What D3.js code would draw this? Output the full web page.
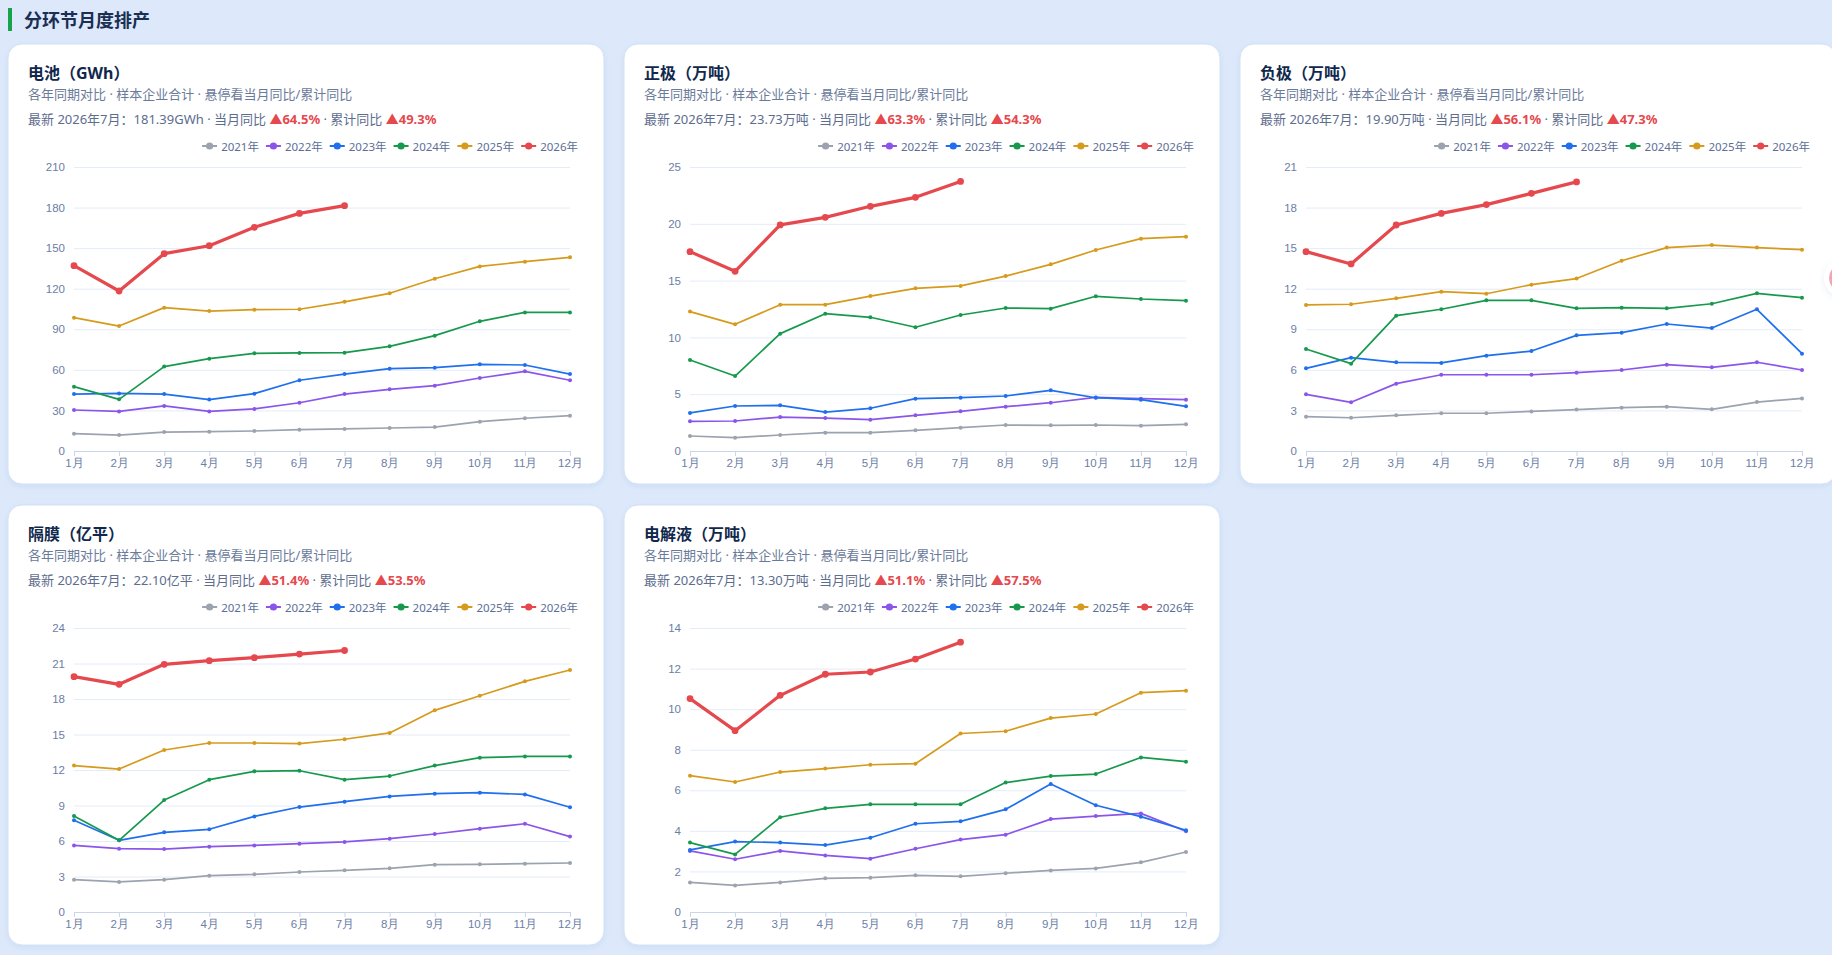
<!DOCTYPE html>
<html>
<head>
<meta charset="utf-8">
<script src="https://cdn.jsdelivr.net/npm/d3@7"></script>
<style>
    body { margin: 0; background: #dde9fb; overflow: hidden; font-family: "Noto Sans", "Noto Sans CJK SC", sans-serif; }
</style>
</head>
<body>
<div id="page"></div>
<script>
// months on the x axis and the years in the legend
const months = ["1月", "2月", "3月", "4月", "5月", "6月", "7月", "8月", "9月", "10月", "11月", "12月"];
const years = ["2021年", "2022年", "2023年", "2024年", "2025年", "2026年"];

// card texts
const titles = ["电池（GWh）", "正极（万吨）", "负极（万吨）", "隔膜（亿平）", "电解液（万吨）"];
const subtitle = "各年同期对比 · 样本企业合计 · 悬停看当月同比/累计同比";
const latestText = ["181.39GWh", "23.73万吨", "19.90万吨", "22.10亿平", "13.30万吨"];
const monthYoY = ["▲64.5%", "▲63.3%", "▲56.1%", "▲51.4%", "▲51.1%"];
const ytdYoY = ["▲49.3%", "▲54.3%", "▲47.3%", "▲53.5%", "▲57.5%"];

// y tick labels per card
const batteryTicks = [0, 30, 60, 90, 120, 150, 180, 210];
const cathodeTicks = [0, 5, 10, 15, 20, 25];
const anodeTicks = [0, 3, 6, 9, 12, 15, 18, 21];
const separatorTicks = [0, 3, 6, 9, 12, 15, 18, 21, 24];
const electrolyteTicks = [0, 2, 4, 6, 8, 10, 12, 14];

// monthly output, one row per year (2021 .. 2026)
const battery = [
    [12.8, 11.8, 14.0, 14.3, 14.8, 15.8, 16.3, 17.0, 17.7, 21.7, 24.2, 26.1],
    [30.3, 29.3, 33.3, 29.3, 31.1, 35.7, 42.1, 45.6, 48.3, 54.0, 58.9, 52.3],
    [42.1, 42.6, 42.1, 38.0, 42.4, 52.3, 56.9, 60.9, 61.6, 64.1, 63.6, 56.9],
    [47.6, 38.2, 62.4, 68.3, 72.2, 72.5, 72.7, 77.4, 85.3, 95.9, 102.5, 102.5],
    [98.6, 92.4, 106.0, 103.5, 104.5, 104.8, 110.3, 116.6, 127.4, 136.5, 140.0, 143.2],
    [137.0, 118.3, 145.9, 151.8, 165.4, 175.7, 181.39]
];
const cathode = [
    [1.32, 1.17, 1.41, 1.61, 1.61, 1.82, 2.05, 2.29, 2.26, 2.29, 2.23, 2.35],
    [2.61, 2.64, 2.99, 2.90, 2.76, 3.14, 3.49, 3.90, 4.25, 4.72, 4.61, 4.52],
    [3.35, 3.96, 4.02, 3.43, 3.76, 4.61, 4.69, 4.84, 5.34, 4.69, 4.52, 3.93],
    [8.01, 6.60, 10.33, 12.09, 11.77, 10.89, 11.97, 12.59, 12.53, 13.62, 13.38, 13.23],
    [12.27, 11.15, 12.88, 12.88, 13.64, 14.32, 14.53, 15.40, 16.43, 17.69, 18.69, 18.87],
    [17.55, 15.82, 19.90, 20.57, 21.54, 22.33, 23.73]
];
const anode = [
    [2.54, 2.46, 2.64, 2.79, 2.79, 2.93, 3.06, 3.20, 3.28, 3.08, 3.62, 3.89],
    [4.19, 3.60, 4.98, 5.64, 5.64, 5.64, 5.79, 5.99, 6.38, 6.19, 6.56, 5.99],
    [6.11, 6.90, 6.56, 6.51, 7.05, 7.39, 8.55, 8.75, 9.39, 9.09, 10.48, 7.20],
    [7.54, 6.46, 10.01, 10.48, 11.14, 11.14, 10.55, 10.60, 10.55, 10.89, 11.66, 11.34],
    [10.80, 10.85, 11.29, 11.78, 11.63, 12.30, 12.75, 14.07, 15.04, 15.23, 15.04, 14.89],
    [14.74, 13.83, 16.71, 17.57, 18.22, 19.05, 19.90]
];
const separator = [
    [2.73, 2.54, 2.73, 3.07, 3.18, 3.38, 3.52, 3.69, 4.00, 4.03, 4.08, 4.14],
    [5.63, 5.35, 5.32, 5.52, 5.63, 5.77, 5.92, 6.20, 6.59, 7.04, 7.46, 6.37],
    [7.75, 6.06, 6.73, 6.99, 8.08, 8.87, 9.32, 9.77, 10.00, 10.08, 9.94, 8.85],
    [8.11, 6.06, 9.46, 11.18, 11.89, 11.94, 11.18, 11.49, 12.37, 13.04, 13.15, 13.15],
    [12.37, 12.08, 13.69, 14.28, 14.28, 14.23, 14.60, 15.13, 17.04, 18.28, 19.49, 20.45],
    [19.89, 19.24, 20.93, 21.24, 21.49, 21.80, 22.10]
];
const electrolyte = [
    [1.46, 1.31, 1.46, 1.66, 1.69, 1.81, 1.76, 1.91, 2.05, 2.15, 2.45, 2.96],
    [3.01, 2.60, 3.01, 2.79, 2.63, 3.12, 3.57, 3.81, 4.58, 4.73, 4.86, 3.98],
    [3.06, 3.47, 3.42, 3.30, 3.66, 4.35, 4.47, 5.06, 6.31, 5.26, 4.70, 4.03],
    [3.42, 2.84, 4.67, 5.11, 5.31, 5.31, 5.31, 6.38, 6.70, 6.80, 7.62, 7.41],
    [6.72, 6.41, 6.90, 7.07, 7.26, 7.31, 8.80, 8.91, 9.56, 9.76, 10.81, 10.91],
    [10.52, 8.94, 10.68, 11.72, 11.83, 12.47, 13.30]
];

function init(){
    var W = 1832, H = 955;
    var cardW = 596, cardH = 440;
    var colors = ["#9ca3af", "#8b55ea", "#1f6fee", "#17994d", "#d69a1c", "#e5484d"];
    var seriesList = [battery, cathode, anode, separator, electrolyte];
    var tickList = [batteryTicks, cathodeTicks, anodeTicks, separatorTicks, electrolyteTicks];
    var cardPos = [[8, 44], [624, 44], [1240, 44], [8, 505], [624, 505]];

    var svg = d3.select("#page")
        .append("svg")
        .attr("width", W)
        .attr("height", H)
        .style("display", "block");

    var defs = svg.append("defs");
    var shadow = defs.append("filter")
        .attr("id", "shadow")
        .attr("x", "-10%").attr("y", "-10%")
        .attr("width", "120%").attr("height", "120%");
    shadow.append("feDropShadow")
        .attr("dx", 0).attr("dy", 2)
        .attr("stdDeviation", 3)
        .attr("flood-color", "#7f9fcf")
        .attr("flood-opacity", 0.18);

    // page header
    svg.append("rect")
        .attr("x", 8).attr("y", 8)
        .attr("width", 4).attr("height", 23)
        .attr("fill", "#16a34a");
    svg.append("text")
        .attr("x", 24).attr("y", 20)
        .attr("dominant-baseline", "central")
        .style("font-size", "18px")
        .style("font-weight", "bold")
        .style("fill", "#1a2f52")
        .text("分环节月度排产");

    seriesList.forEach(function(series, i){
        drawCard(cardPos[i][0], cardPos[i][1], i, series, tickList[i]);
    });

    // floating button peeking in at the right edge
    svg.append("circle")
        .attr("cx", 1843).attr("cy", 278).attr("r", 19)
        .attr("fill", "#ffffff")
        .attr("filter", "url(#shadow)");
    svg.append("circle")
        .attr("cx", 1843).attr("cy", 278).attr("r", 14)
        .attr("fill", "#f2a5b8");

    function drawCard(x0, y0, idx, series, ticks) {
        var g = svg.append("g").attr("transform", `translate(${x0}, ${y0})`);

        g.append("rect")
            .attr("width", cardW).attr("height", cardH)
            .attr("rx", 14)
            .attr("fill", "#ffffff")
            .attr("stroke", "#d2e1f4")
            .attr("filter", "url(#shadow)");

        // header texts
        g.append("text")
            .attr("x", 20).attr("y", 29)
            .attr("dominant-baseline", "central")
            .style("font-size", "16px")
            .style("font-weight", "bold")
            .style("fill", "#10284c")
            .text(titles[idx]);

        g.append("text")
            .attr("x", 20).attr("y", 50)
            .attr("dominant-baseline", "central")
            .style("font-size", "13px")
            .style("fill", "#6a7a9a")
            .text(subtitle);

        var latest = g.append("text")
            .attr("x", 20).attr("y", 75)
            .attr("dominant-baseline", "central")
            .style("font-size", "13px")
            .style("fill", "#5d6d8e");
        latest.append("tspan").text("最新 2026年7月：" + latestText[idx] + " · 当月同比 ");
        latest.append("tspan").style("fill", "#e5484d").style("font-weight", "bold").text(monthYoY[idx]);
        latest.append("tspan").text(" · 累计同比 ");
        latest.append("tspan").style("fill", "#e5484d").style("font-weight", "bold").text(ytdYoY[idx]);

        // scales
        var left = 66, right = 562, top = 123, bottom = 407;
        var xScale = d3.scalePoint()
            .domain(months)
            .range([left, right]);
        var yScale = d3.scaleLinear()
            .domain([0, ticks[ticks.length - 1]])
            .range([bottom, top]);

        // y axis with grid lines
        var yAxis = g.append("g")
            .attr("transform", `translate(${left}, 0)`)
            .call(d3.axisLeft(yScale).tickValues(ticks).tickSize(-(right - left)).tickPadding(9));
        yAxis.select(".domain").remove();
        yAxis.selectAll(".tick line").attr("stroke", "#e4ecf7");
        yAxis.selectAll(".tick text")
            .style("font-size", "11.5px")
            .style("font-family", "inherit")
            .style("fill", "#6b7ea6");

        // x axis
        var xAxis = g.append("g")
            .attr("transform", `translate(0, ${bottom})`)
            .call(d3.axisBottom(xScale).tickSize(5).tickPadding(3));
        xAxis.select(".domain").attr("stroke", "#c8d5ea");
        xAxis.selectAll(".tick line").attr("stroke", "#c8d5ea");
        xAxis.selectAll(".tick text")
            .style("font-size", "11.5px")
            .style("font-family", "inherit")
            .style("fill", "#6b7ea6");

        var line = d3.line()
            .x(function(d, j){ return xScale(months[j]); })
            .y(function(d){ return yScale(d); });

        series.forEach(function(vals, k){
            var isNow = k === series.length - 1;
            g.append("path")
                .datum(vals)
                .attr("d", line)
                .attr("fill", "none")
                .attr("stroke", colors[k])
                .attr("stroke-width", isNow ? 3.2 : 1.7)
                .attr("stroke-linejoin", "round")
                .attr("stroke-linecap", "round");
            g.selectAll(null)
                .data(vals)
                .enter()
                .append("circle")
                .attr("cx", function(d, j){ return xScale(months[j]); })
                .attr("cy", function(d){ return yScale(d); })
                .attr("r", isNow ? 3.4 : 2)
                .attr("fill", colors[k]);
        });

        // legend, right aligned above the plot
        var legend = g.append("g");
        var items = [];
        years.forEach(function(name, k){
            var item = legend.append("g");
            item.append("line")
                .attr("x1", 0).attr("x2", 15)
                .attr("y1", 102).attr("y2", 102)
                .attr("stroke", colors[k])
                .attr("stroke-width", 2);
            item.append("circle")
                .attr("cx", 7.5).attr("cy", 102).attr("r", 3.6)
                .attr("fill", colors[k]);
            var t = item.append("text")
                .attr("x", 19).attr("y", 102)
                .attr("dominant-baseline", "central")
                .style("font-size", "11.5px")
                .style("fill", "#5b6e96")
                .text(name);
            items.push({ node: item, width: 19 + t.node().getComputedTextLength() });
        });
        var gap = 7;
        var total = d3.sum(items, function(d){ return d.width; }) + gap * (items.length - 1);
        var pos = 570 - total;
        items.forEach(function(it){
            it.node.attr("transform", `translate(${pos}, 0)`);
            pos += it.width + gap;
        });
    }
}

window.onload = init;
</script>
</body>
</html>
